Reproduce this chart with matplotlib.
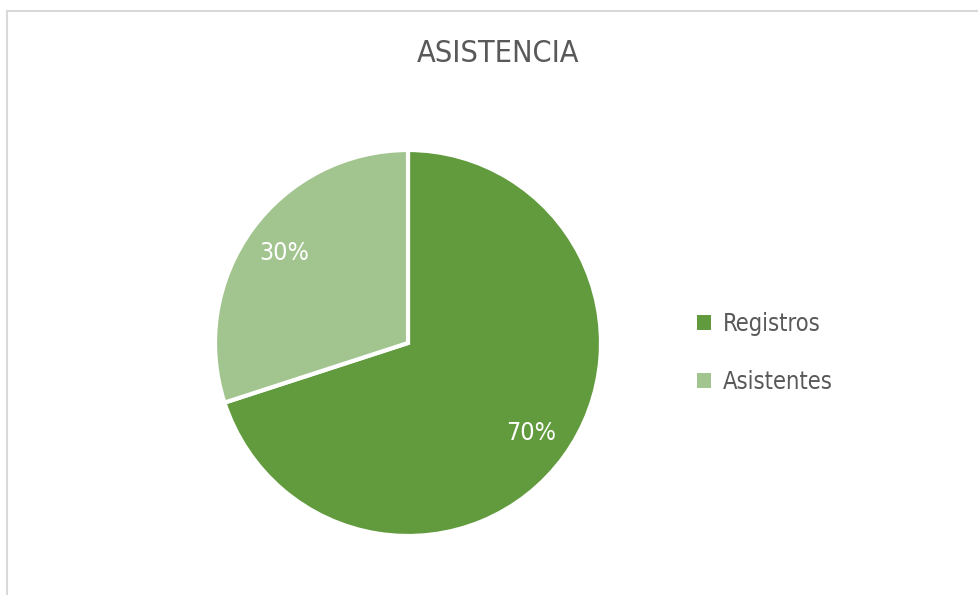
import matplotlib.pyplot as plt
from matplotlib.lines import Line2D
from matplotlib.patches import Patch

# Data
labels = ["Registros", "Asistentes"]
values = [70, 30]
colors = ["#629B3E", "#A2C48F"]

plt.rcParams['font.family'] = ['Liberation Sans Narrow', 'DejaVu Sans']
plt.rcParams['font.stretch'] = 'condensed'
text_color = "#595959"

W, H = 979, 595
fig = plt.figure(figsize=(W / 100, H / 100), dpi=100)

# chart area border (cropped at right/bottom)
fig.add_artist(Line2D([7 / W, 1], [1 - 11 / H, 1 - 11 / H], color="#d9d9d9", lw=1.5))
fig.add_artist(Line2D([7 / W, 7 / W], [0, 1 - 11 / H], color="#d9d9d9", lw=1.5))

# pie axes
cx, cy, r = 408, 343, 193
ax = fig.add_axes([(cx - r) / W, (H - cy - r) / H, 2 * r / W, 2 * r / H])
wedges, texts, autotexts = ax.pie(
    values, colors=colors, startangle=90, counterclock=False,
    autopct="%1.0f%%", pctdistance=0.79,
    wedgeprops=dict(edgecolor="white", linewidth=3),
    textprops=dict(color="white", fontsize=18),
)
ax.set_xlim(-1, 1)
ax.set_ylim(-1, 1)
ax.set_aspect("equal")
ax.axis("off")

fig.text(498 / W, 1 - 53 / H, "ASISTENCIA", ha="center", va="center",
         fontsize=22, color=text_color)

handles = [Patch(facecolor=c, edgecolor="none") for c in colors]
fig.legend(handles, labels, loc="center left", bbox_to_anchor=(676 / W, 1 - 353 / H),
           frameon=False, fontsize=17, labelcolor=text_color,
           handlelength=0.6, handleheight=0.6, handletextpad=0.5,
           labelspacing=1.45)

fig.savefig("out.png", dpi=100)
